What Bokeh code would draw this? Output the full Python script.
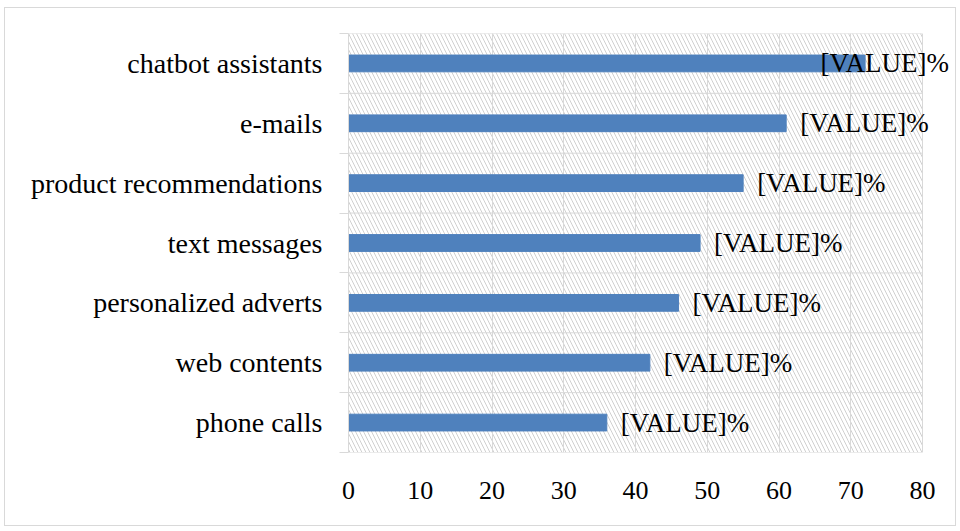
from bokeh.embed import file_html
from bokeh.models import BoxAnnotation, ColumnDataSource, FixedTicker, LabelSet
from bokeh.plotting import figure
from bokeh.resources import INLINE

BAR_BLUE = "#4f81bd"
GRID_GREY = "#d9d9d9"
SERIF = "Liberation Serif"

# bottom to top, as drawn
categories = ["phone calls", "web contents", "personalized adverts",
              "text messages", "product recommendations", "e-mails",
              "chatbot assistants"]
shares = [36, 42, 46, 49, 55, 61, 72]
x_ticks = [0, 10, 20, 30, 40, 50, 60, 70, 80]
label_text = "[VALUE]%"

W, H = 952, 519
LEFT, RIGHT, TOP, BOTTOM = 343, 3, 25, 75
PLOT_W = 574          # pixel width of the 0..80 plot area
frame_w = W - LEFT - RIGHT
x_lo, x_hi = x_ticks[0], x_ticks[-1]
# frame runs on past 80 so the labels are not clipped
x_end = x_lo + (x_hi - x_lo) * frame_w / PLOT_W

centers = [i + 0.5 for i in range(len(categories))]
bounds = list(range(len(categories) + 1))

# data labels sit 14px past the bar end, pulled back if they would
# run past the chart edge (like the spreadsheet does)
px_per_unit = PLOT_W / (x_hi - x_lo)
label_w = 128
offsets = []
for v in shares:
    end = v * px_per_unit
    off = 14
    if end + off + label_w > PLOT_W + 26:
        off = PLOT_W + 26 - label_w - end
    offsets.append(off)

src = ColumnDataSource(dict(y=centers, share=shares, off=offsets,
                            txt=[label_text] * len(shares)))

p = figure(width=W, height=H, x_range=(x_lo, x_end),
           y_range=(0, len(categories)), output_backend="svg",
           toolbar_location=None, min_border_left=LEFT,
           min_border_right=RIGHT, min_border_top=TOP,
           min_border_bottom=BOTTOM,
           styles={"border": "1px solid " + GRID_GREY,
                   "margin-left": "4px", "margin-top": "7px"})
p.outline_line_color = None

hatch = BoxAnnotation(left=x_lo, right=x_hi, fill_alpha=0, line_color=None,
                      hatch_pattern="\\", hatch_color="#d0d0d0",
                      hatch_scale=8, hatch_weight=1, level="image")
p.add_layout(hatch)

# category boundary lines, only across the plot area
p.segment(x0=x_lo, x1=x_hi, y0=bounds, y1=bounds, line_color=GRID_GREY,
          line_width=1)

p.hbar(y="y", right="share", left=0, height=0.28, color=BAR_BLUE,
       source=src)

labels = LabelSet(x="share", y="y", text="txt", x_offset="off", source=src,
                  text_font=SERIF, text_font_size="27px",
                  text_baseline="middle", text_color="black")
p.add_layout(labels)

p.xaxis.ticker = FixedTicker(ticks=x_ticks)
p.xaxis.axis_line_color = None
p.xaxis.major_tick_line_color = None
p.xaxis.minor_tick_line_color = None
p.xaxis.major_label_standoff = 23
p.xaxis.major_label_text_font = SERIF
p.xaxis.major_label_text_font_size = "26px"
p.xaxis.major_label_text_color = "black"

p.yaxis.ticker = FixedTicker(ticks=centers, minor_ticks=bounds)
p.yaxis.major_label_overrides = {c: n for c, n in zip(centers, categories)}
p.yaxis.axis_line_color = GRID_GREY
p.yaxis.major_tick_line_color = None
p.yaxis.minor_tick_line_color = GRID_GREY
p.yaxis.minor_tick_in = 0
p.yaxis.minor_tick_out = 9
p.yaxis.major_label_standoff = 17
p.yaxis.major_label_text_font = SERIF
p.yaxis.major_label_text_font_size = "28px"
p.yaxis.major_label_text_color = "black"

p.xgrid.grid_line_color = GRID_GREY
p.ygrid.grid_line_color = None

open("out.html", "w").write(file_html(p, INLINE))
